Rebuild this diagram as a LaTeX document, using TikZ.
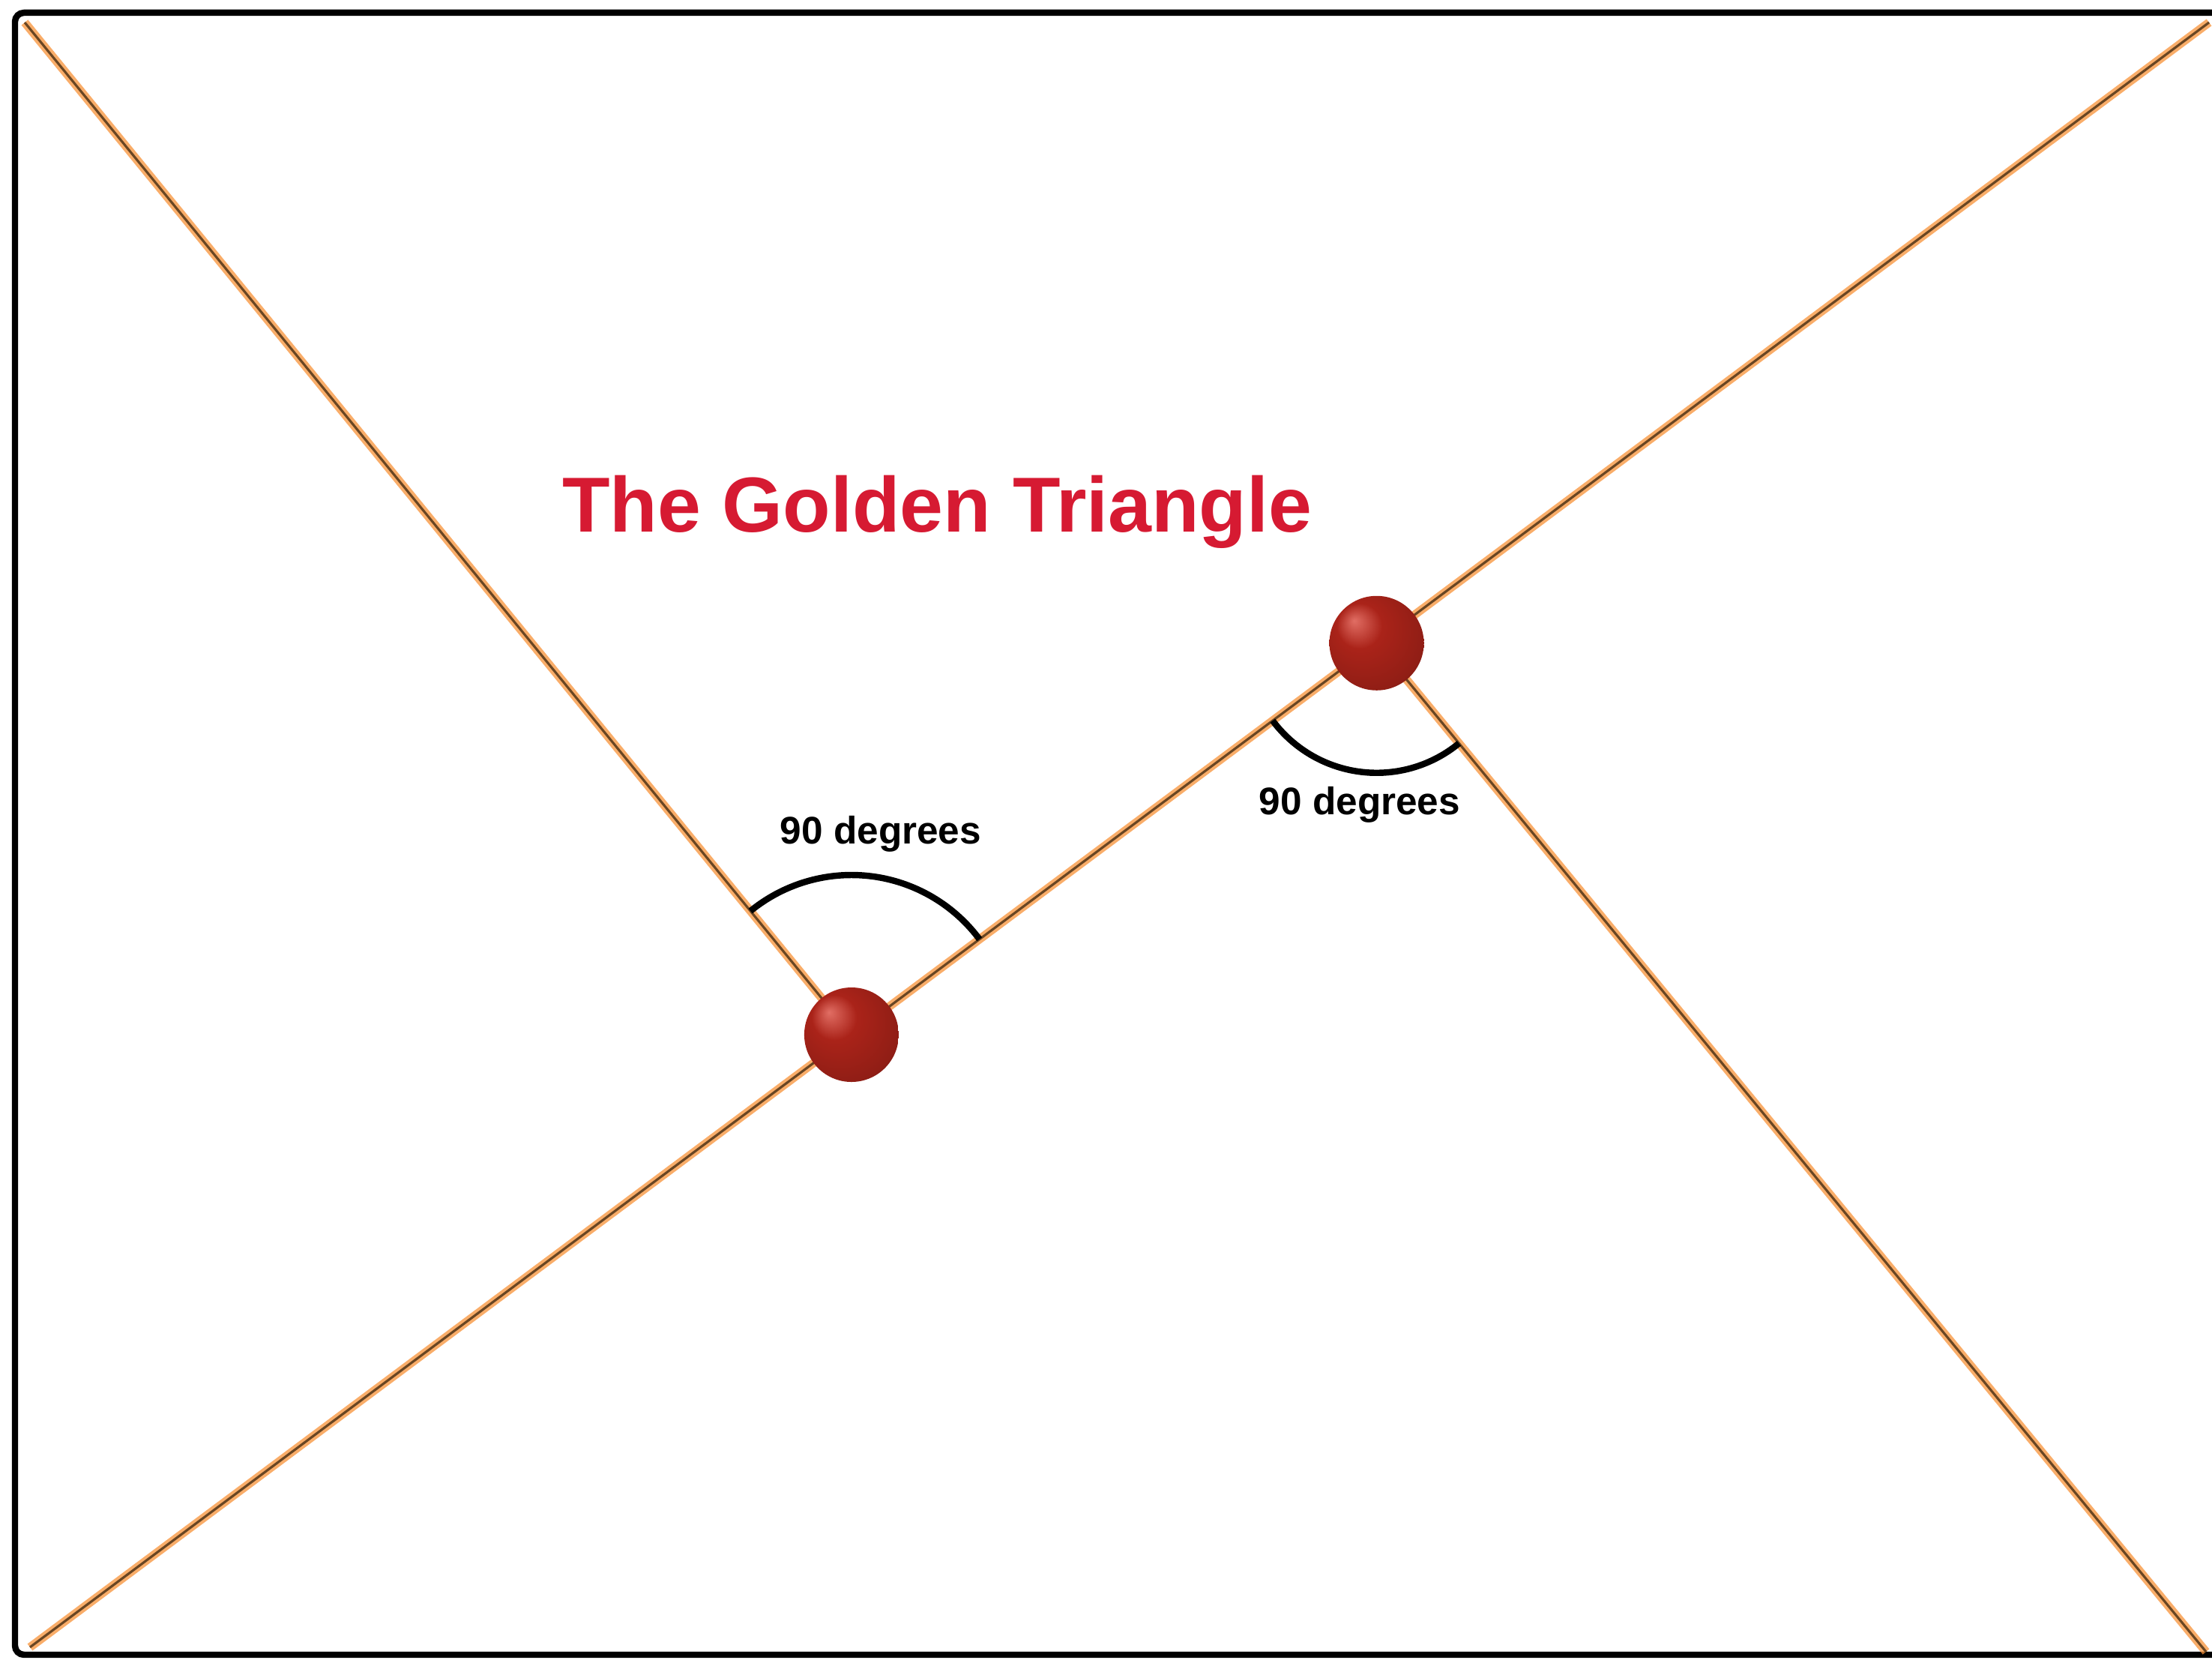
\documentclass[tikz,border=0pt]{standalone}
\usepackage{fontspec}
\setmainfont{Liberation Sans}
\usetikzlibrary{calc,angles}

\definecolor{titlered}{RGB}{214,26,50}
\definecolor{linecore}{RGB}{105,70,35}
\definecolor{lineglow}{RGB}{247,145,55}
\definecolor{ballhi}{RGB}{225,110,100}
\definecolor{ballred}{RGB}{170,35,25}
\definecolor{balldark}{RGB}{70,12,8}

\pgfdeclareradialshading{redball}{\pgfpoint{-12bp}{12bp}}{%
  color(0bp)=(ballhi); color(12bp)=(ballred); color(30bp)=(ballred!85!black);
  color(45bp)=(balldark); color(50bp)=(balldark)}

\tikzset{
  frame/.style={line width=2.4pt, rounded corners=0.12cm},
  goldline/.style={line width=0.9pt, draw=linecore,
    preaction={draw=lineglow, line width=3.2pt, opacity=0.75}},
  ball/.style={circle, minimum size=1.26cm, inner sep=0pt, shading=redball},
  rightangle/.style={draw, line width=2.4pt, angle radius=#1},
  degtext/.style={font=\fontsize{14.6}{16}\selectfont\bfseries},
  title/.style={text=titlered, font=\fontsize{29.6}{34}\selectfont\bfseries}
}

\begin{document}
\begin{tikzpicture}
\useasboundingbox (0,0) rectangle (29.51,22.18);
\clip (0,0) rectangle (29.51,22.18);

% Frame (open on the right)
\draw[frame] (29.8,22.01) -- (0.20,22.01) -- (0.20,0.11) -- (29.8,0.11);

% Corners and golden points
\coordinate (tl) at (0.33,21.88);
\coordinate (br) at (29.43,0.15);
\coordinate (bl) at (0.40,0.21);
\coordinate (tr) at (29.47,21.88);
\coordinate (a) at ($(bl)!0.377!(tr)$);
\coordinate (b) at ($(bl)!0.618!(tr)$);

% Lines
\draw[goldline] (bl) -- (tr);
\draw[goldline] (tl) -- (a);
\draw[goldline] (b) -- (br);

% Angle marks
\pic[rightangle=2.13cm] {angle=tr--a--tl};
\pic[rightangle=1.73cm] {angle=bl--b--br};

% Balls
\node[ball] (ballA) at (a) {};
\node[ball] (ballB) at (b) {};

% Labels
\node[title, anchor=base] (head) at (12.50,15.08) {The Golden Triangle};
\node[degtext] (degA) at (11.75,11.06) {90 degrees};
\node[degtext] (degB) at (18.14,11.45) {90 degrees};
\end{tikzpicture}
\end{document}
